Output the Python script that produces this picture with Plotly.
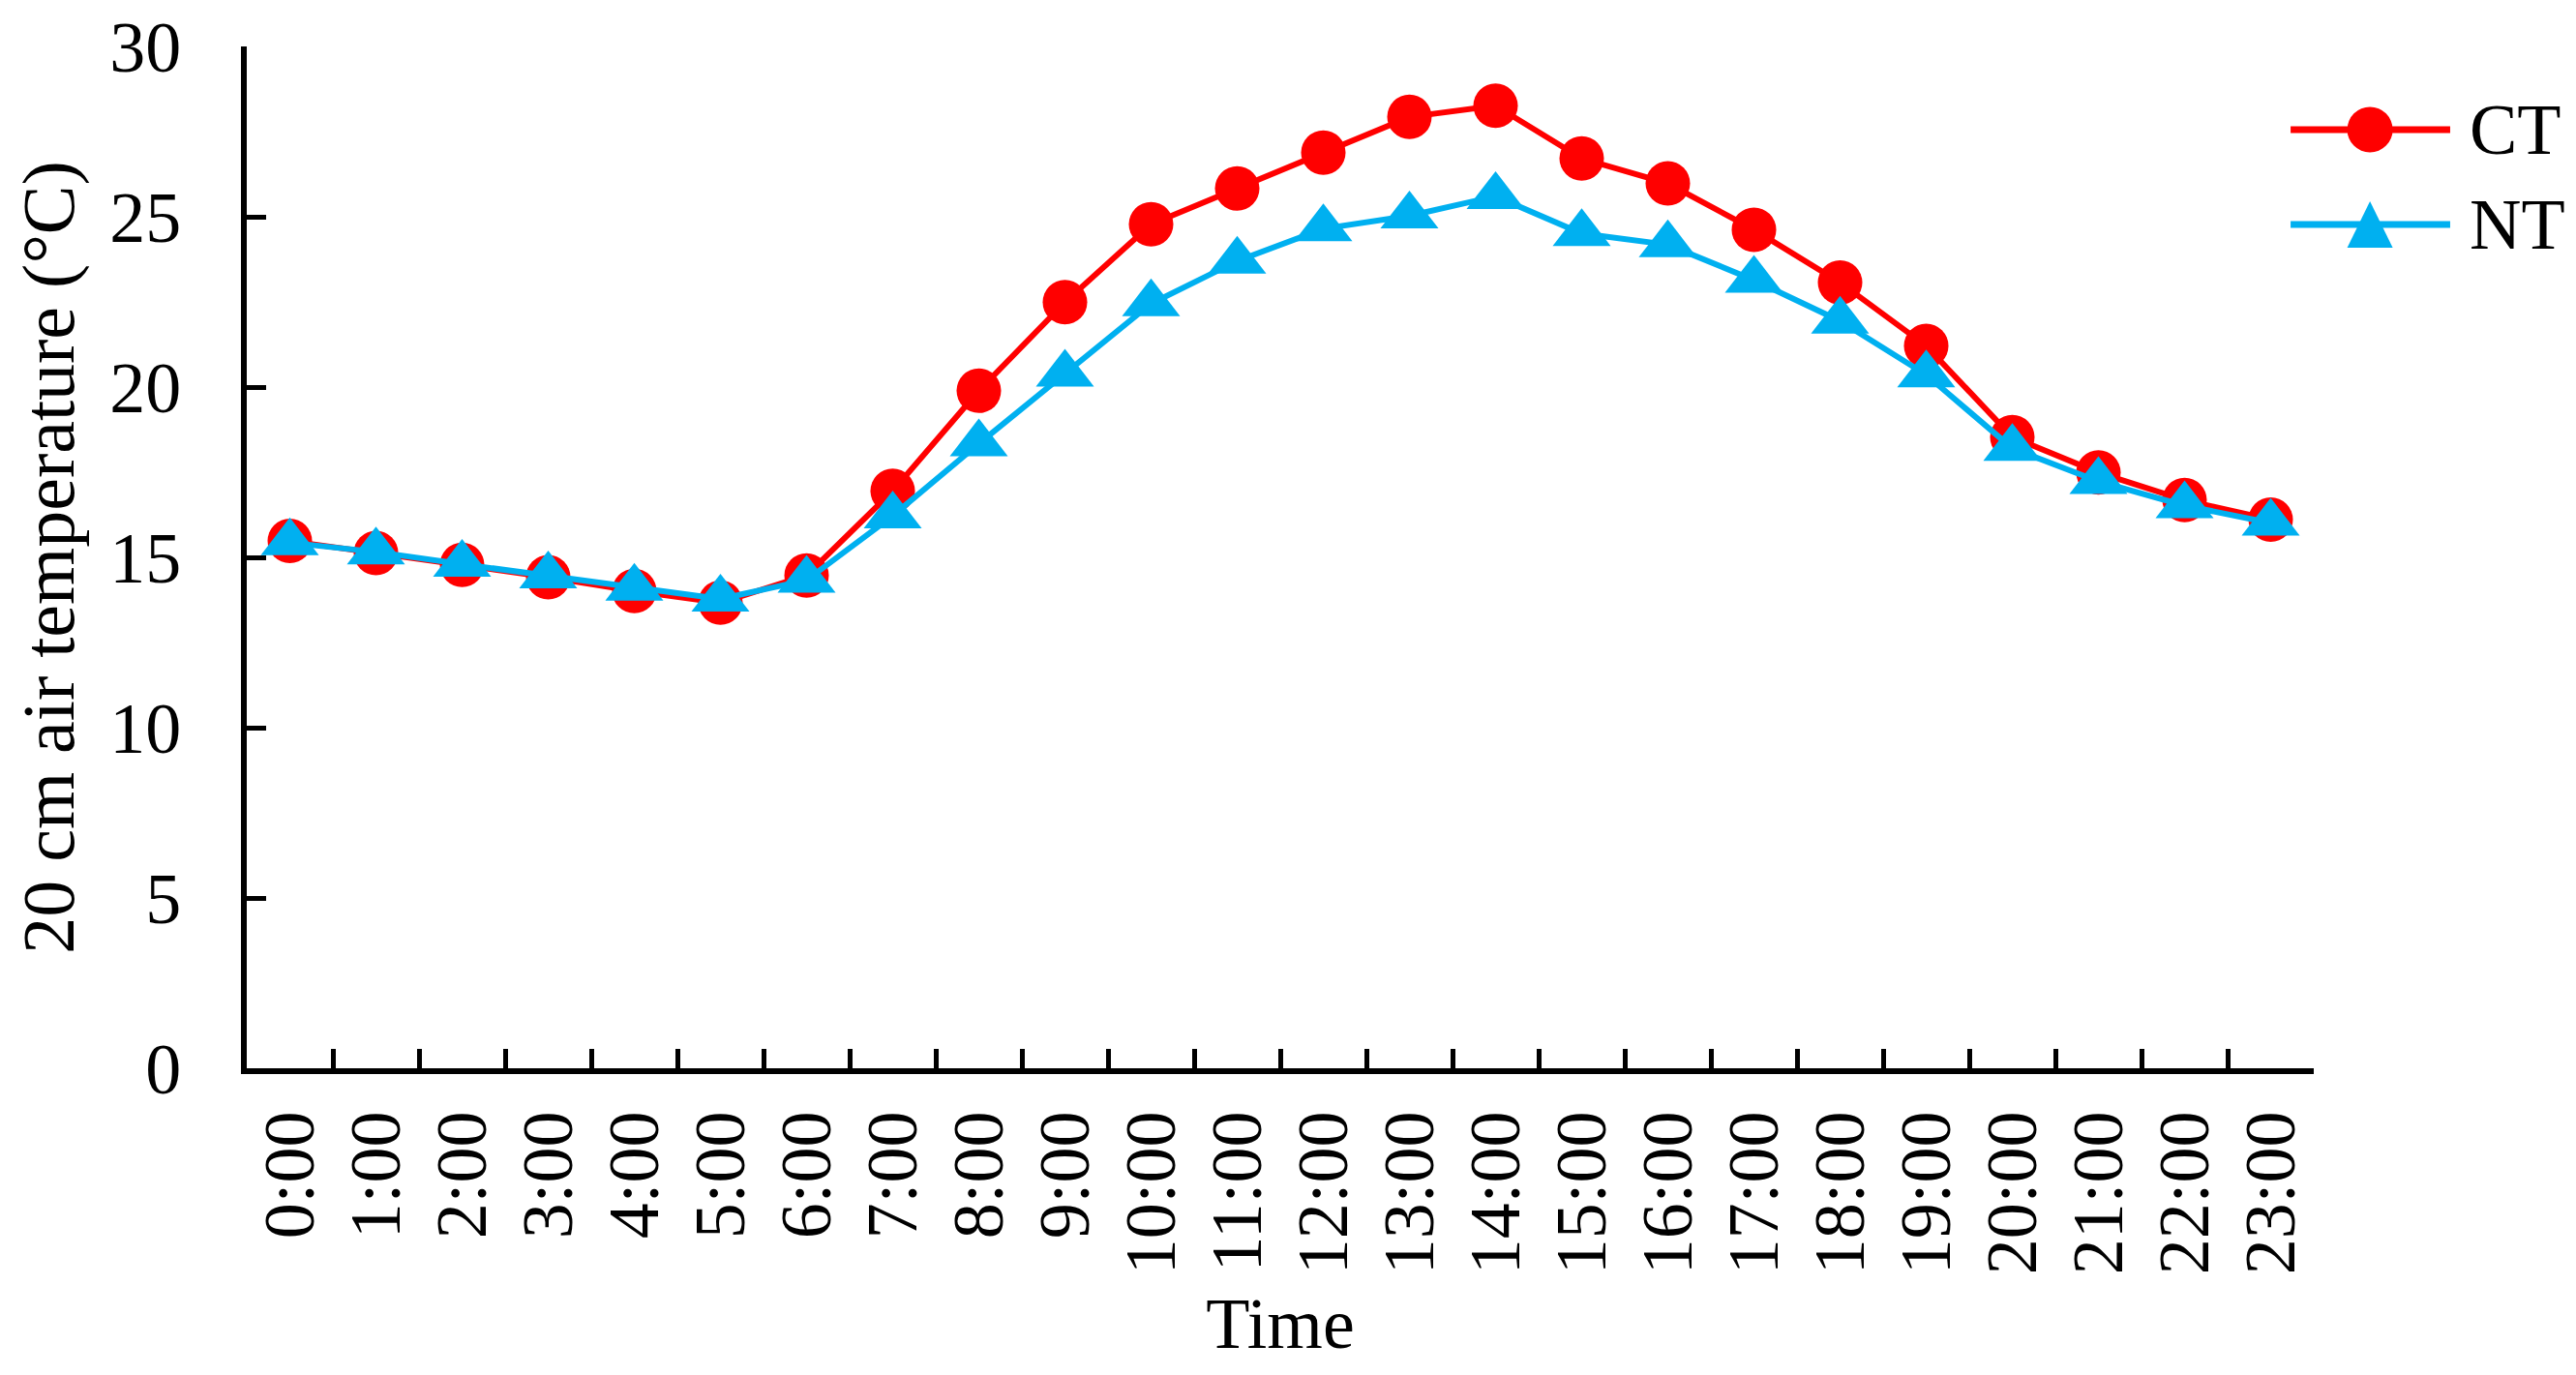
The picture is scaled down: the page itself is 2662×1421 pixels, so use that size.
import plotly.graph_objects as go

times = ["0:00", "1:00", "2:00", "3:00", "4:00", "5:00", "6:00", "7:00", "8:00", "9:00",
         "10:00", "11:00", "12:00", "13:00", "14:00", "15:00", "16:00", "17:00", "18:00",
         "19:00", "20:00", "21:00", "22:00", "23:00"]
ct_values = [15.48, 15.13, 14.78, 14.42, 14.01, 13.67, 14.47, 16.95, 19.89, 22.49,
             24.78, 25.83, 26.88, 27.93, 28.26, 26.71, 25.98, 24.62, 23.07, 21.21,
             18.53, 17.49, 16.68, 16.11]
nt_values = [15.43, 15.16, 14.80, 14.46, 14.10, 13.78, 14.33, 16.22, 18.34, 20.38,
             22.45, 23.70, 24.65, 25.03, 25.60, 24.51, 24.18, 23.14, 21.94, 20.36,
             18.20, 17.23, 16.52, 16.01]
series_names = ["CT", "NT"]
y_ticks = [0, 5, 10, 15, 20, 25, 30]

RED = "#FF0000"
BLUE = "#00B0F0"
FONT = "Liberation Serif"
FS = 74

fig = go.Figure()
fig.add_trace(go.Scatter(x=times, y=ct_values, name=series_names[0], mode="lines+markers",
                         line=dict(color=RED, width=6),
                         marker=dict(symbol="circle", size=46, color=RED)))
fig.add_trace(go.Scatter(x=times, y=nt_values, name=series_names[1], mode="lines+markers",
                         line=dict(color=BLUE, width=6),
                         marker=dict(symbol="triangle-up", size=52, color=BLUE)))

# custom legend (shapes + text) placed right of the plot, in paper coordinates
leg_x0, leg_x1, leg_xm, leg_tx = 0.9888, 1.066, 1.0272, 1.0744
leg_y = [0.9186, 0.8258]
shapes = []
annotations = []
for name, color, yy, kind in [(series_names[0], RED, leg_y[0], "circle"),
                              (series_names[1], BLUE, leg_y[1], "triangle")]:
    shapes.append(dict(type="line", xref="paper", yref="paper", x0=leg_x0, x1=leg_x1,
                       y0=yy, y1=yy, line=dict(color=color, width=7)))
    if kind == "circle":
        shapes.append(dict(type="circle", xref="paper", yref="paper",
                           xsizemode="pixel", ysizemode="pixel",
                           xanchor=leg_xm, yanchor=yy, x0=-23.5, x1=23.5, y0=-23.5, y1=23.5,
                           fillcolor=color, line=dict(width=0)))
    else:
        shapes.append(dict(type="path", xref="paper", yref="paper",
                           xsizemode="pixel", ysizemode="pixel",
                           xanchor=leg_xm, yanchor=yy,
                           path="M-23.5,-24 L23.5,-24 L0,24 Z",
                           fillcolor=color, line=dict(width=0)))
    annotations.append(dict(x=leg_tx, y=yy, xref="paper", yref="paper", text=name,
                            showarrow=False, xanchor="left", yanchor="middle",
                            font=dict(family=FONT, size=FS, color="black")))

fig.update_layout(
    width=2654, height=1413,
    margin=dict(l=247, r=271, t=40, b=317, autoexpand=False),
    paper_bgcolor="white", plot_bgcolor="white",
    showlegend=False,
    font=dict(family=FONT, size=FS, color="black"),
    shapes=shapes, annotations=annotations,
)
fig.update_xaxes(
    type="category", range=[-0.5, 23.5], tickson="boundaries",
    showline=True, linecolor="black", linewidth=6,
    ticks="inside", ticklen=20, tickwidth=5, tickcolor="black",
    tickangle=-90, ticklabelstandoff=9, ticklabeloverflow="allow",
    showgrid=False, zeroline=False, automargin=False,
    title=dict(text="Time", font=dict(family=FONT, size=FS), standoff=27),
)
fig.update_yaxes(
    range=[0, 30], tickvals=y_ticks, ticktext=[str(v) for v in y_ticks],
    showline=True, linecolor="black", linewidth=6,
    ticks="inside", ticklen=20, tickwidth=5, tickcolor="black",
    ticklabelstandoff=47, ticklabeloverflow="allow",
    showgrid=False, zeroline=False, automargin=False,
    title=dict(text="20 cm air temperature (°C)", font=dict(family=FONT, size=76), standoff=25),
)

fig.write_html("out.html")
